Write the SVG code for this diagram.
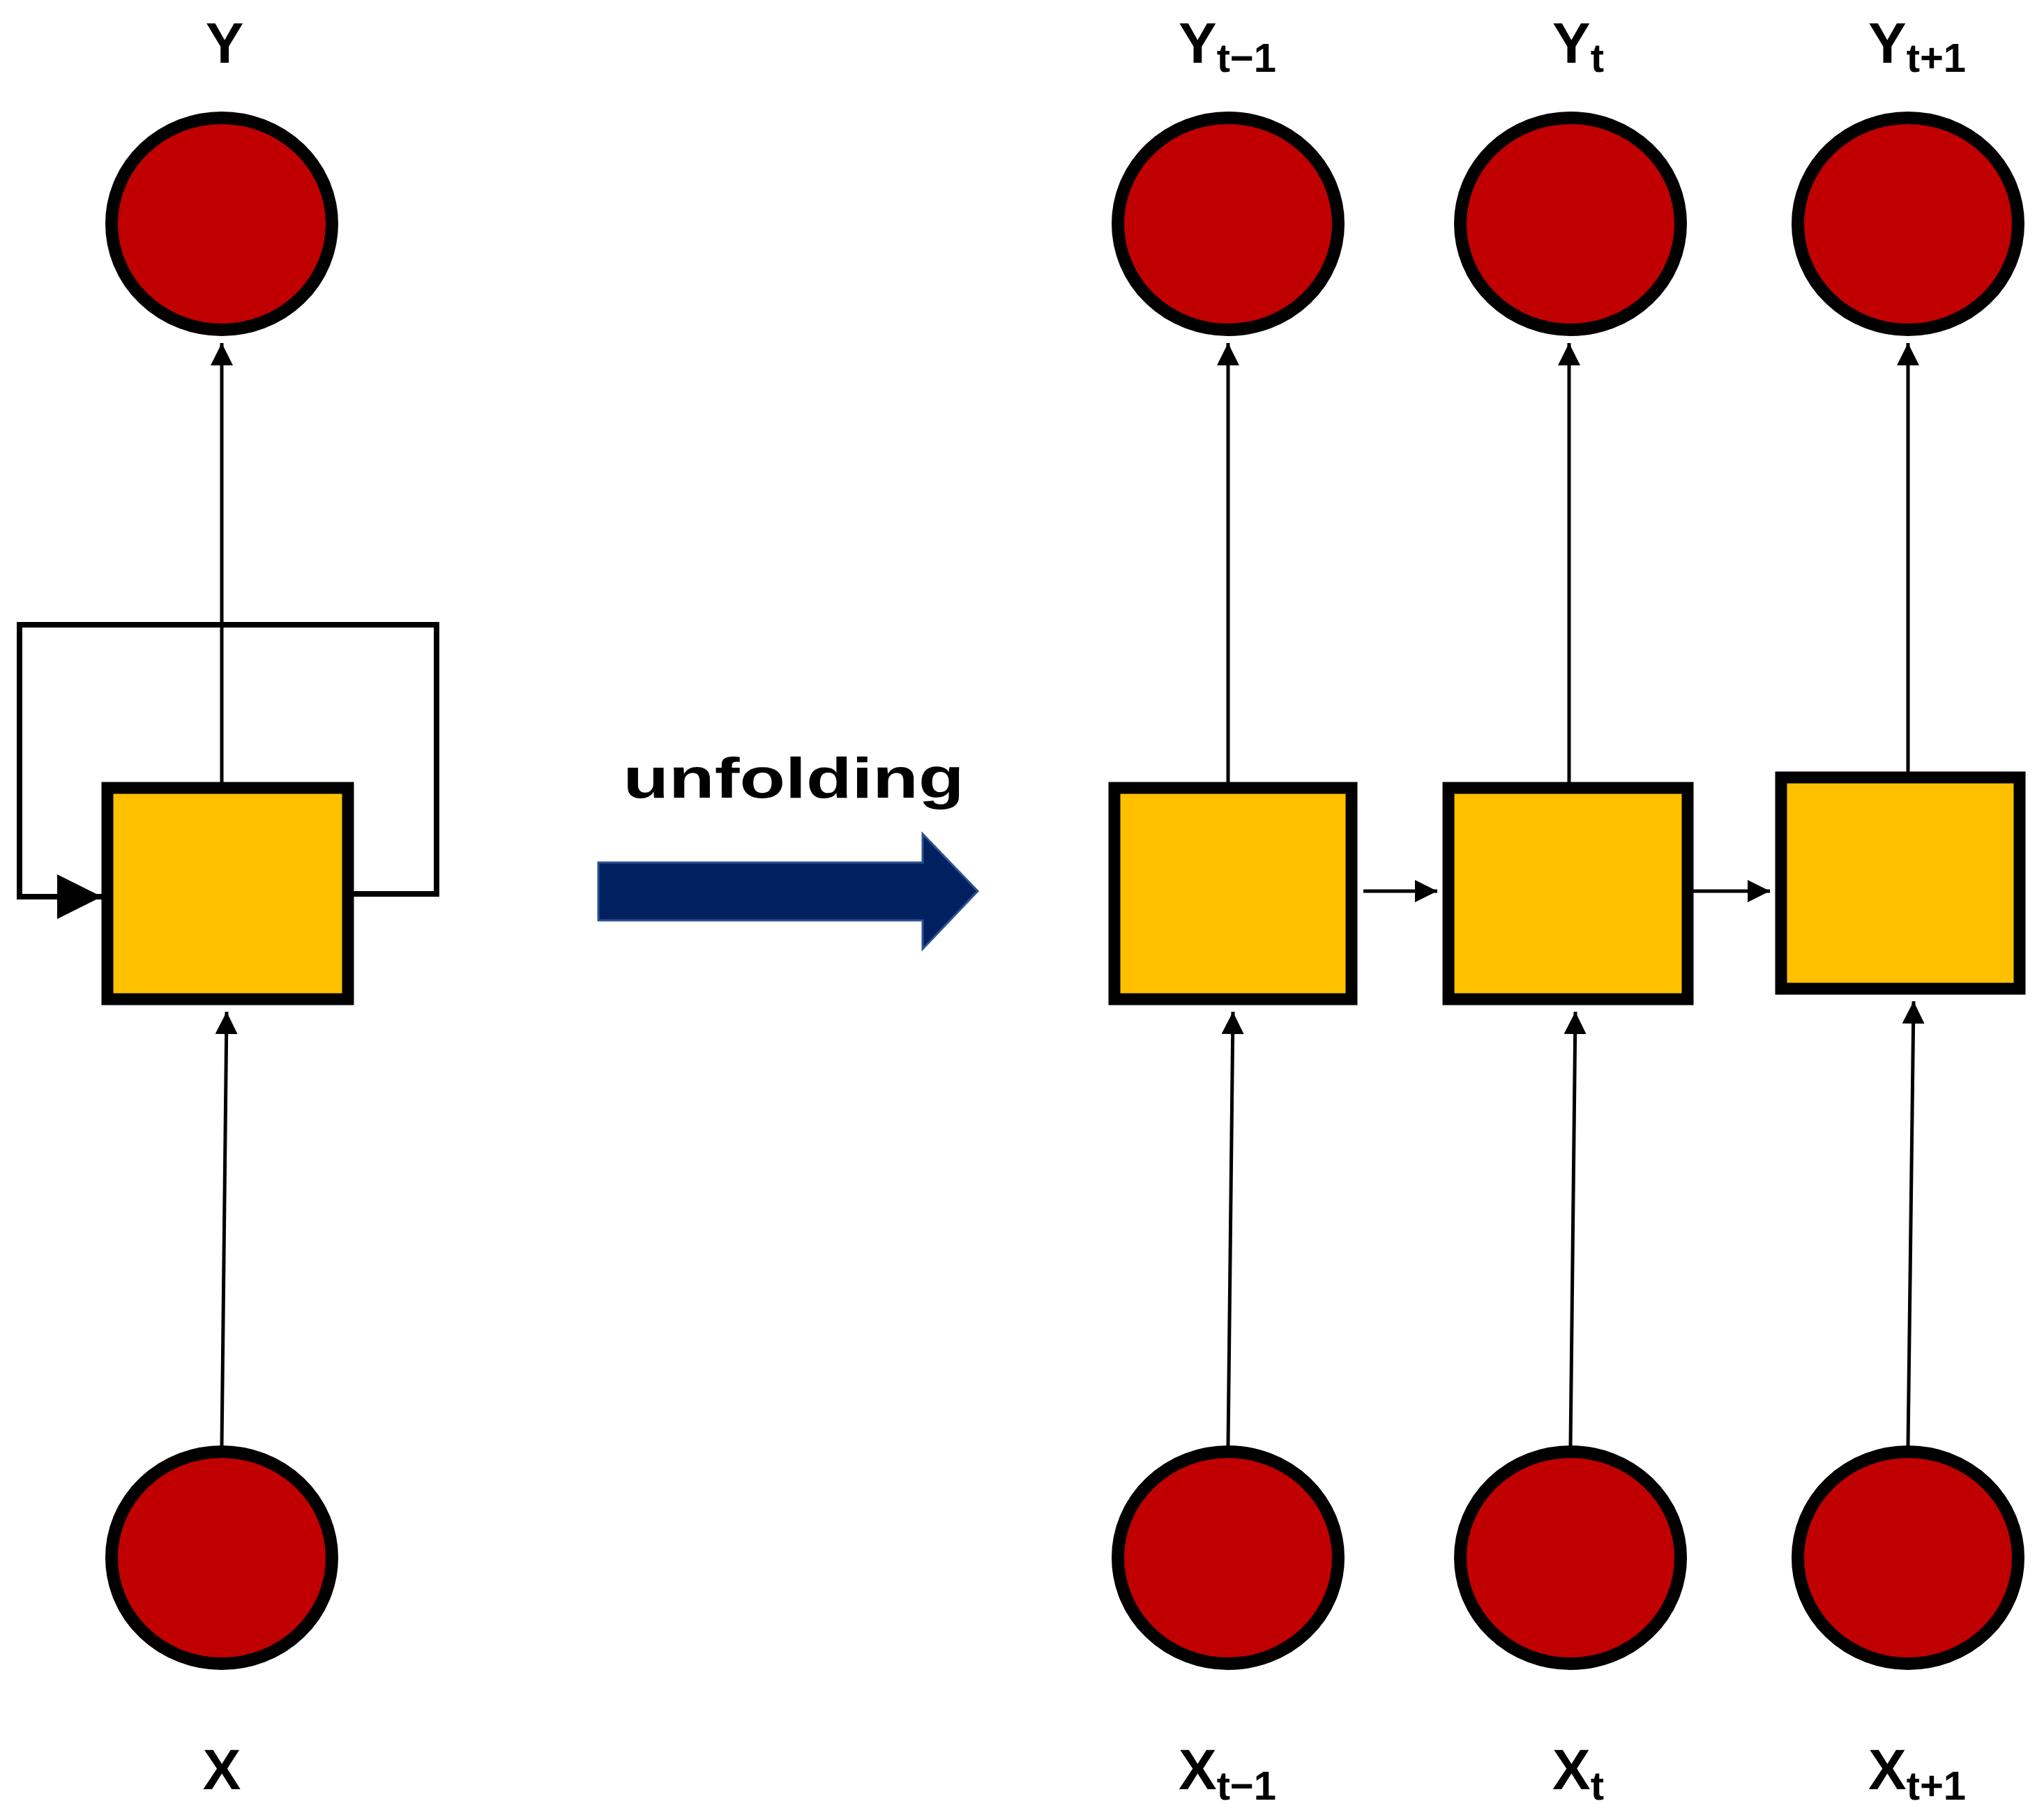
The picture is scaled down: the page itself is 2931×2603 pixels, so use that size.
<svg xmlns="http://www.w3.org/2000/svg" width="2931" height="2603" viewBox="0 0 2931 2603">
<style>
.c{fill:#C00000;stroke:#000;stroke-width:18}
.s{fill:#FFC000;stroke:#000;stroke-width:17}
.l{fill:none;stroke:#000;stroke-width:5}
.t{font-family:"Liberation Sans",Arial,sans-serif;font-weight:bold;font-size:82px;fill:#000;text-anchor:middle}
.sub{font-size:58px}
</style>
<defs>
<marker id="a" viewBox="0 0 10 10" refX="10" refY="5" markerWidth="8" markerHeight="8" markerUnits="userSpaceOnUse" orient="auto">
<path d="M0,0L10,5L0,10z"/></marker>
<marker id="ah" viewBox="0 0 10 10" refX="10" refY="5" markerWidth="32" markerHeight="32" markerUnits="userSpaceOnUse" orient="auto">
<path d="M0,0L10,5L0,10z"/></marker>
<marker id="am" viewBox="0 0 10 10" refX="10" refY="5" markerWidth="64" markerHeight="64" markerUnits="userSpaceOnUse" orient="auto">
<path d="M0,0L10,5L0,10z"/></marker>
</defs>
<rect width="2931" height="2603" fill="#fff"/>
<g id="connectors">
<path class="l" d="M318,1122V492" marker-end="url(#ah)" stroke-width="5"/>
<path class="l" d="M318,2074L325,1451" marker-end="url(#ah)"/>
<path fill="none" stroke="#000" stroke-width="8" d="M507,1282H626V896H28V1286H146" marker-end="url(#am)"/>
<path class="l" d="M1761,1122V492" marker-end="url(#ah)"/>
<path class="l" d="M2250,1122V492" marker-end="url(#ah)"/>
<path class="l" d="M2736,1107V492" marker-end="url(#ah)"/>
<path class="l" d="M1761,2074L1768,1451" marker-end="url(#ah)"/>
<path class="l" d="M2252,2074L2259,1451" marker-end="url(#ah)"/>
<path class="l" d="M2736,2074L2744,1436" marker-end="url(#ah)"/>
<path class="l" d="M1955,1278H2061" marker-end="url(#ah)"/>
<path class="l" d="M2414,1278H2538" marker-end="url(#ah)"/>
</g>
<g id="unfold-arrow">
<path d="M858,1237H1323V1196L1402,1278L1323,1361V1320H858z" fill="#002060" stroke="#2F528F" stroke-width="3"/>
<text x="1138" y="1144" class="t" font-size="74" textLength="489" lengthAdjust="spacingAndGlyphs">unfolding</text>
</g>
<g id="Y"><ellipse class="c" cx="318" cy="321" rx="158" ry="152"/><text class="t" x="322" y="90">Y</text></g>
<g id="X"><ellipse class="c" cx="318" cy="2234" rx="158" ry="152"/><text class="t" x="318" y="2566">X</text></g>
<g id="H"><rect class="s" x="154" y="1130" width="345" height="303"/></g>
<g id="Ytm1"><ellipse class="c" cx="1761" cy="321" rx="158" ry="152"/><text class="t" x="1760" y="90">Y<tspan class="sub" dy="13">t−1</tspan></text></g>
<g id="Yt"><ellipse class="c" cx="2252" cy="321" rx="158" ry="152"/><text class="t" x="2263" y="90">Y<tspan class="sub" dy="13">t</tspan></text></g>
<g id="Ytp1"><ellipse class="c" cx="2736" cy="321" rx="158" ry="152"/><text class="t" x="2749" y="90">Y<tspan class="sub" dy="13">t+1</tspan></text></g>
<g id="Htm1"><rect class="s" x="1598" y="1130" width="340" height="303"/></g>
<g id="Ht"><rect class="s" x="2077" y="1130" width="343" height="303"/></g>
<g id="Htp1"><rect class="s" x="2554" y="1115" width="342" height="303"/></g>
<g id="Xtm1"><ellipse class="c" cx="1761" cy="2234" rx="158" ry="152"/><text class="t" x="1760" y="2566">X<tspan class="sub" dy="15">t−1</tspan></text></g>
<g id="Xt"><ellipse class="c" cx="2252" cy="2234" rx="158" ry="152"/><text class="t" x="2263" y="2566">X<tspan class="sub" dy="15">t</tspan></text></g>
<g id="Xtp1"><ellipse class="c" cx="2736" cy="2234" rx="158" ry="152"/><text class="t" x="2749" y="2566">X<tspan class="sub" dy="15">t+1</tspan></text></g>
</svg>
